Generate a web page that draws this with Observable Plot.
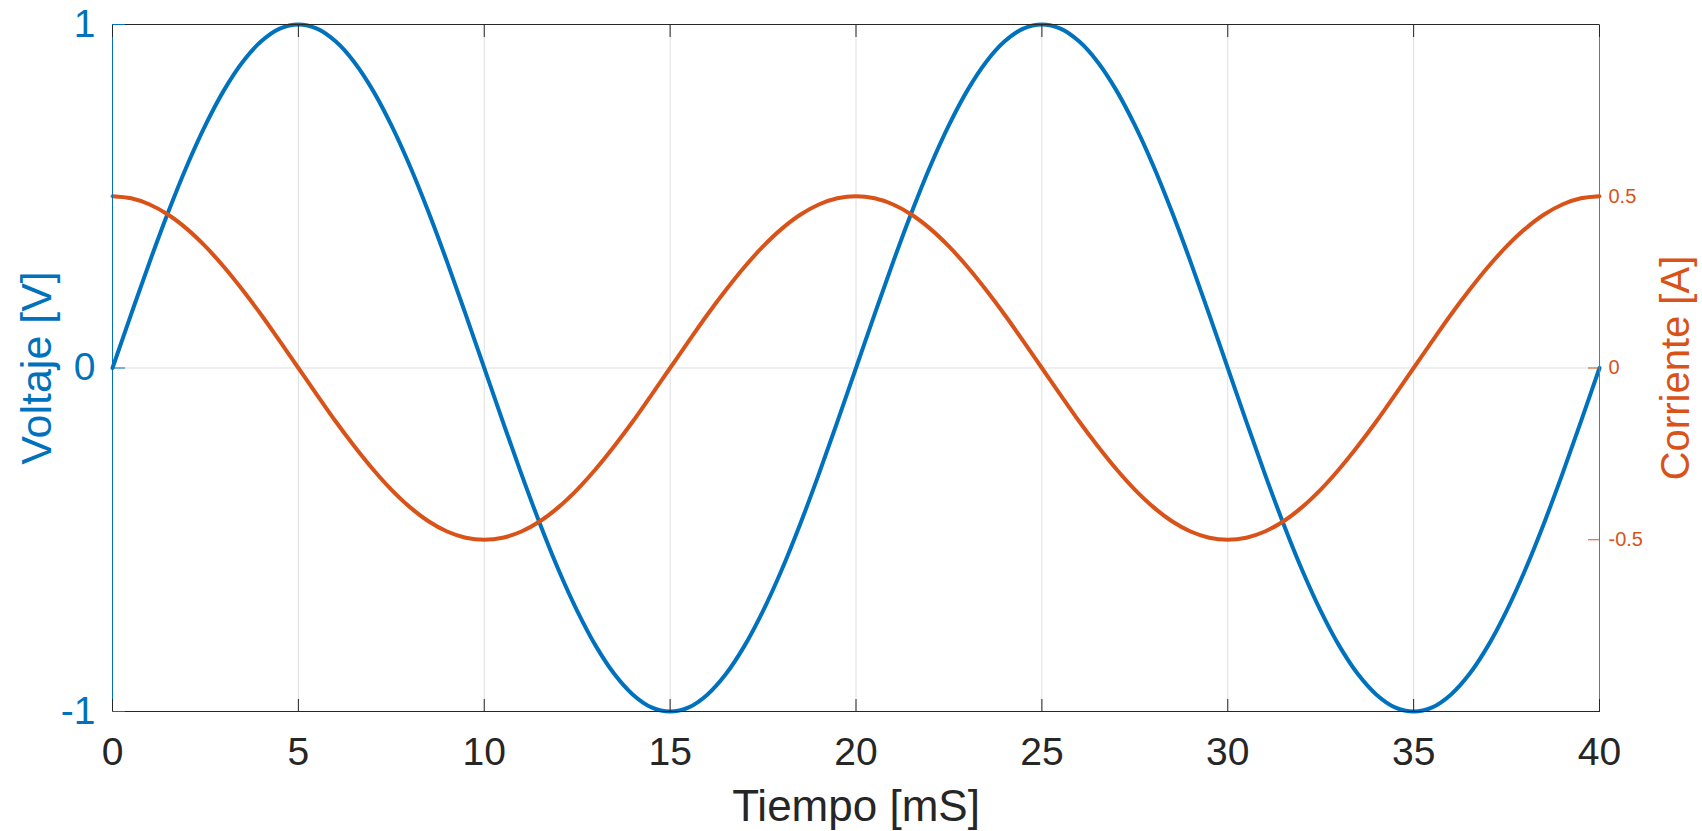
<!DOCTYPE html>
<html><head><meta charset="utf-8">
<script src="https://cdn.jsdelivr.net/npm/d3@7"></script>
<script src="https://cdn.jsdelivr.net/npm/@observablehq/plot@0.6"></script>
<style>html,body{margin:0;padding:0;background:#fff}#chart svg{display:block}</style>
</head><body><div id="chart"></div>
<script>
const tiempo = [0,0.5,1,1.5,2,2.5,3,3.5,4,4.5,5,5.5,6,6.5,7,7.5,8,8.5,9,9.5,10,10.5,11,11.5,12,12.5,13,13.5,14,14.5,15,15.5,16,16.5,17,17.5,18,18.5,19,19.5,20,20.5,21,21.5,22,22.5,23,23.5,24,24.5,25,25.5,26,26.5,27,27.5,28,28.5,29,29.5,30,30.5,31,31.5,32,32.5,33,33.5,34,34.5,35,35.5,36,36.5,37,37.5,38,38.5,39,39.5,40];
const voltaje = [0,0.156,0.309,0.454,0.588,0.707,0.809,0.891,0.951,0.988,1,0.988,0.951,0.891,0.809,0.707,0.588,0.454,0.309,0.156,0,-0.156,-0.309,-0.454,-0.588,-0.707,-0.809,-0.891,-0.951,-0.988,-1,-0.988,-0.951,-0.891,-0.809,-0.707,-0.588,-0.454,-0.309,-0.156,
  0,0.156,0.309,0.454,0.588,0.707,0.809,0.891,0.951,0.988,1,0.988,0.951,0.891,0.809,0.707,0.588,0.454,0.309,0.156,0,-0.156,-0.309,-0.454,-0.588,-0.707,-0.809,-0.891,-0.951,-0.988,-1,-0.988,-0.951,-0.891,-0.809,-0.707,-0.588,-0.454,-0.309,-0.156,0];
const corriente = [0.5,0.494,0.476,0.446,0.405,0.354,0.294,0.227,0.155,0.078,0,-0.078,-0.155,-0.227,-0.294,-0.354,-0.405,-0.446,-0.476,-0.494,-0.5,-0.494,-0.476,-0.446,-0.405,-0.354,-0.294,-0.227,-0.155,-0.078,0,0.078,0.155,0.227,0.294,0.354,0.405,0.446,0.476,0.494,
  0.5,0.494,0.476,0.446,0.405,0.354,0.294,0.227,0.155,0.078,0,-0.078,-0.155,-0.227,-0.294,-0.354,-0.405,-0.446,-0.476,-0.494,-0.5,-0.494,-0.476,-0.446,-0.405,-0.354,-0.294,-0.227,-0.155,-0.078,0,0.078,0.155,0.227,0.294,0.354,0.405,0.446,0.476,0.494,0.5];
const xTicks = [0,5,10,15,20,25,30,35,40];
const yTicksLeft = [-1,0,1];
const yTicksRight = [-0.5,0,0.5];
const xLabel = "Tiempo [mS]";
const yLeftLabel = "Voltaje [V]";
const yRightLabel = "Corriente [A]";

const data = tiempo.map((t, i) => ({t, v: voltaje[i], c: corriente[i]}));
const blue = "#0072BD", orange = "#D95319", dark = "#262626", grid = "#dfdfdf";
const fmt = d => String(d);
const none = () => "";

const chart = Plot.plot({
  width: 1702, height: 831,
  marginLeft: 112, marginRight: 103, marginTop: 24, marginBottom: 120,
  style: {fontFamily: "'Liberation Sans', Arial, sans-serif", background: "#fff"},
  x: {domain: [xTicks[0], xTicks[xTicks.length - 1]]},
  y: {domain: [yTicksLeft[0], yTicksLeft[yTicksLeft.length - 1]]},
  marks: [
    Plot.gridX(xTicks, {stroke: grid, strokeOpacity: 1}),
    Plot.gridY([0], {stroke: grid, strokeOpacity: 1}),
    Plot.lineY(data, {x: "t", y: "v", stroke: blue, strokeWidth: 4, curve: "catmull-rom"}),
    Plot.lineY(data, {x: "t", y: "c", stroke: orange, strokeWidth: 4, curve: "catmull-rom"}),
    Plot.frame({stroke: dark}),
    Plot.ruleX([xTicks[0]], {stroke: blue}),
    Plot.ruleX([xTicks[xTicks.length - 1]], {stroke: orange}),
    Plot.axisX(xTicks, {anchor: "bottom", tickSize: 0, tickPadding: 26, fontSize: 39, color: dark, label: null, tickFormat: fmt}),
    Plot.axisX(xTicks, {anchor: "bottom", tickSize: 12, dy: -12, tickFormat: none, color: dark, label: null}),
    Plot.axisX(xTicks, {anchor: "top", tickSize: 12, dy: 12, tickFormat: none, color: dark, label: null}),
    Plot.axisY(yTicksLeft, {anchor: "left", tickSize: 0, tickPadding: 17, fontSize: 39, color: blue, label: null, tickFormat: fmt}),
    Plot.axisY(yTicksLeft, {anchor: "left", tickSize: 13, dx: 13, tickFormat: none, color: blue, label: null}),
    Plot.axisY(yTicksRight, {anchor: "right", tickSize: 0, tickPadding: 9, fontSize: 20, color: orange, label: null, tickFormat: fmt}),
    Plot.axisY(yTicksRight, {anchor: "right", tickSize: 12, dx: -12, tickFormat: none, color: orange, label: null}),
    Plot.text([xLabel], {text: d => d, frameAnchor: "bottom", dy: 109, lineAnchor: "bottom", textAnchor: "middle", fontSize: 44, fill: dark}),
    Plot.text([yLeftLabel], {text: d => d, frameAnchor: "left", dx: -75, rotate: -90, lineAnchor: "middle", textAnchor: "middle", fontSize: 43, fill: blue}),
    Plot.text([yRightLabel], {text: d => d, frameAnchor: "right", dx: 77, rotate: -90, lineAnchor: "middle", textAnchor: "middle", fontSize: 40, fill: orange})
  ]
});
document.getElementById("chart").append(chart);
</script>
</body></html>
